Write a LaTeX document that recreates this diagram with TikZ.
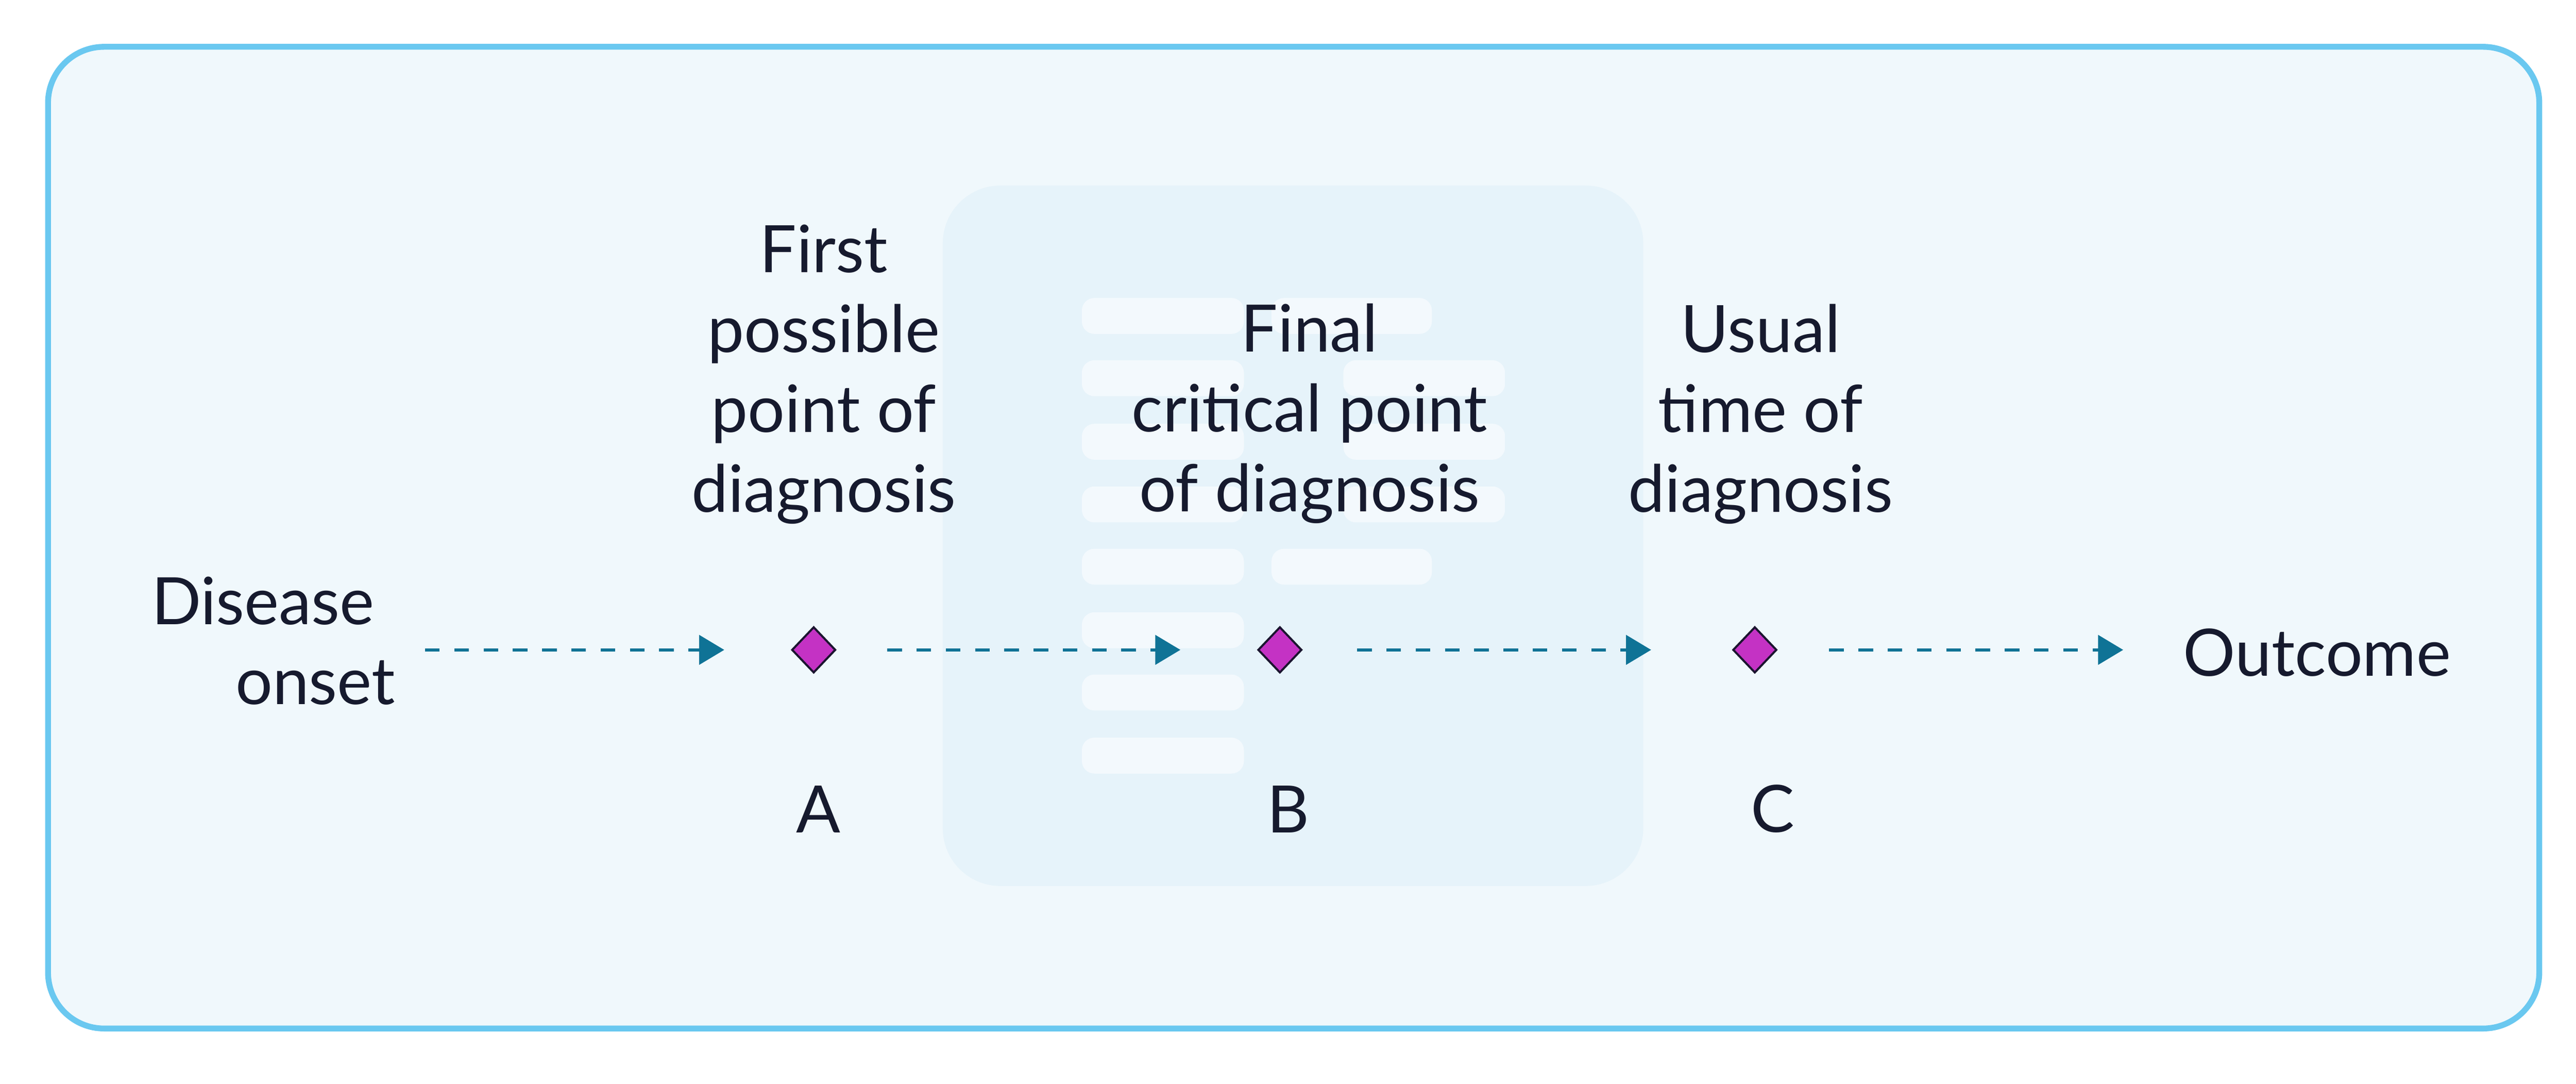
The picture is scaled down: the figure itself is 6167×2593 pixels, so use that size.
\documentclass[tikz,border=0pt]{standalone}
\usepackage{fontspec}
\setmainfont{Lato}
\usetikzlibrary{shapes.geometric,arrows.meta}

\definecolor{framefill}{HTML}{F0F8FC}
\definecolor{framec}{HTML}{6AC8F0}
\definecolor{docfill}{HTML}{E6F3FA}
\definecolor{barfill}{HTML}{F3F9FD}
\definecolor{flowc}{HTML}{0F7396}
\definecolor{dmfill}{HTML}{C432C4}
\definecolor{dmline}{HTML}{1B1530}
\definecolor{ink}{HTML}{161A2E}

\tikzset{
  txt/.style={text=ink, inner sep=0pt, font=\fontsize{44.5}{54.3}\selectfont},
  point/.style={diamond, draw=dmline, fill=dmfill, line width=0.05cm,
    minimum width=1.05cm, minimum height=1.1cm, inner sep=0pt},
  flow/.style={draw=flowc, line width=0.07cm, dash pattern=on 0.35cm off 0.35cm,
    -{Triangle[length=0.6cm,width=0.7cm]}},
  bar/.style={fill=barfill, rounded corners=0.3cm},
}

\begin{document}
\begin{tikzpicture}[x=0.01cm, y=-0.01cm]
\useasboundingbox (0,0) rectangle (6167,2593);

\draw[draw=framec, fill=framefill, line width=0.14cm, rounded corners=1.34cm] (115,112) rectangle (6079,2461);

% faded report in the back
\fill[docfill, rounded corners=1.38cm] (2257,444) rectangle (3934,2120);
\fill[bar] (2590,713) rectangle (2978,799);
\fill[bar] (3044,713) rectangle (3428,799);
\fill[bar] (2590,862) rectangle (2978,948);
\fill[bar] (3216,862) rectangle (3603,948);
\fill[bar] (2590,1014) rectangle (2978,1100);
\fill[bar] (3216,1014) rectangle (3603,1100);
\fill[bar] (2590,1164) rectangle (2978,1250);
\fill[bar] (3216,1164) rectangle (3603,1250);
\fill[bar] (2590,1313) rectangle (2978,1399);
\fill[bar] (3044,1313) rectangle (3428,1399);
\fill[bar] (2590,1465) rectangle (2978,1551);
\fill[bar] (2590,1614) rectangle (2978,1700);
\fill[bar] (2590,1765) rectangle (2978,1851);

\node[txt, align=left, anchor=base west] (onset) at (362,1685) {Disease\\\hspace*{2.01cm}onset};
\node[point] (dA) at (1948,1555) {};
\node[point] (dB) at (3064,1555) {};
\node[point] (dC) at (4201,1555) {};
\node[txt, anchor=base west] (outcome) at (5226,1617) {Outcome};

\node[txt, align=center, anchor=base] (first) at (1972,1225) {First\\possible\\point of\\diagnosis};
\node[txt, align=center, anchor=base] (final) at (3135,1224) {Final\\critical point\\of diagnosis};
\node[txt, align=center, anchor=base] (usual) at (4215,1225) {Usual\\time of\\diagnosis};

\node[txt, anchor=base] (a) at (1959,1993) {A};
\node[txt, anchor=base] (b) at (3084,1992) {B};
\node[txt, anchor=base] (c) at (4244,1991) {C};

\draw[flow, shorten <=0.71cm, shorten >=1.59cm] (onset.east |- dA) -- (dA.west);
\draw[flow, shorten <=1.21cm, shorten >=1.83cm] (dA.east) -- (dB.west);
\draw[flow, shorten <=1.30cm, shorten >=1.93cm] (dB.east) -- (dC.west);
\draw[flow, shorten <=1.23cm, shorten >=1.43cm] (dC.east) -- (outcome.west |- dC);

\end{tikzpicture}
\end{document}
